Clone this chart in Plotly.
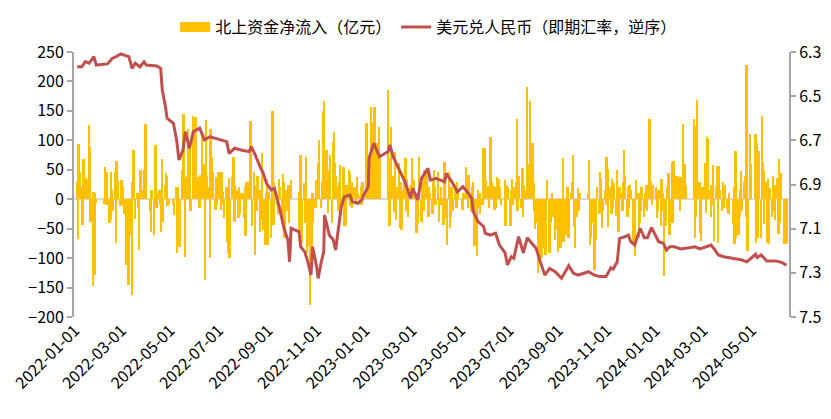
import pandas as pd
from plotly.subplots import make_subplots
import plotly.graph_objects as go

# northbound net flow (100m CNY), one value per trading day, month by month
flow_2022 = [
    30, -68, 93, 47, 20, -44, 69, 30, 38, 35, 24, 126, 89, -38, -148, 12, -128, 10, -6,  # jan
    -8, 55, 20, -10, 47, -41, -36, 47, 15, -20, 47, -75, 65, 30, 33, -12,  # feb
    32, -10, 20, -25, -112, -53, -40, -146, -60, -163, 30, 84, 20, -33, 10, -15, -87, 25, 49, 15, 30, 49, 127,  # mar
    127, -20, -55, 15, -61, 30, 92, -15, 10, 15, -10, -55, 69, -38, 25, 44, 40, -12, -8,  # apr
    -10, -27, 21, -92, 21, -30, -81, 49, 23, 144, 38, -98, 40, 119, 30, 97, -20, 141, 50,  # may
    70, 140, 38, -15, 41, 38, 115, 60, -137, 135, 40, 20, -100, 120, 72, 30, 47, -18, 38, -10, 20,  # jun
    47, -18, 46, 13, -10, -32, 20, -72, -92, 36, -100, 38, 25, 72, -38, 24, 15, -32, 20, -25, 10,  # jul
    10, -32, 21, -63, 30, 15, 29, 133, 80, -46, 47, -95, 24, -20, 40, -55, 15, -35, 78, -52, -78, 10, 35,  # aug
    -78, 12, -66, 38, 149, -44, 30, -10, -25, 35, 20, -30, 42, 29, -66, 15, -20, 25, -40, 10, 33,  # sep
    13, -63, 75, -20, -75, 27, -40, 72, -92, -80, -179, -60, -95, 10, -40, -15,  # oct
    33, 10, 61, 101, -15, 30, 20, 149, 166, 84, 50, -24, 20, 75, -41, 98, 115, 61, 40, 20, -20, 30,  # nov
    58, -20, 55, -46, 10, -45, 25, 49, 44, -12, 30, -15, 20, 16, -8, 38, 10, 5, 22, -10, 30, 15,  # dec
]
flow_2023 = [
    129, 30, 60, 40, 157, 25, 129, 80, 157, 92, 95, 40, 123, 75, 186, 60,  # jan
    -46, 70, 123, 40, -21, 80, -35, 20, 61, -49, 30, -52, 15, 40, 70, -20, 35, -30, 25, 10,  # feb
    70, 20, 33, -49, -58, 10, -40, 72, -38, 25, 30, -20, 49, 47, 15, -30, 20, 10, -25, 35, 49, 20, -10,  # mar
    47, -38, -10, 20, -44, 64, 47, -32, -78, 47, -49, -30, 20, -20, 10, 25, -15, 30, 15,  # apr
    -18, 10, 55, 25, 41, -15, 41, -21, 20, 30, -30, -80, -97, 15, -15, 10, -25, -10, 87, 20,  # may
    87, 33, 23, -15, 45, 106, 30, 23, -18, 20, -15, 38, 35, 20, -10, 33, -46, 15, 25, 20,  # jun
    -46, 15, 35, -10, 20, 30, 137, -20, 40, 20, -15, 53, -30, 25, 15, 191, 60, 20, 40, 166, 95,  # jul
    27, -20, -50, -40, -126, -60, -110, -75, -100, -40, -83, -95, -60, 33, -92, -83, -40, 10, -30, -70, -50, -40, -20,  # aug
    -89, -83, -20, -55, 70, -72, -60, 15, 21, -66, -60, 10, 30, 75, -46, -83, -30, 19, -20, 10,  # sep
    10, 66, -78, -66, -40, -20, -120, -70, -30, 20, -25, 47, 35, -49, -20, 15, -10,  # oct
    72, 52, -48, 20, -25, 35, -15, 27, -29, 49, 15, -55, 20, 10, -20, 30, 84, 40, -30, 20, -15, 25,  # nov
    15, -32, -78, -20, -97, 33, 10, -66, -40, -20, 20, -30, 10, -15, 25, -20, 137, 20, 30, -10, 25,  # dec
]
flow_2024 = [
    20, -32, -20, 15, -46, 35, 10, -20, -131, -46, 20, 38, 44, -60, 64, -40, 65, 20, 40, 40, 35, 20,  # jan
    -20, 37, 127, 30, 60, 25, 137, -65, -30, 125, 168, 30, -57, -71, 20,  # feb
    20, 62, -23, 105, 103, 15, -30, 25, -10, 58, -71, 20, 57, -74, 57, 15, -20, 30, -15, 10, 25,  # mar
    -17, -25, 11, -42, 20, -76, 82, -65, -60, -31, 17, 48, -20, 30, 40, -30, 228, -88, 110, 60,  # apr
    110, -74, 96, -65, 82, -65, 141, 62, 48, -42, 30, -74, 34, -76, 19, -30, 40, -20, 25, -35,  # may
    36, -59, 68, -40, 45, -76, -30, -76, -75,  # jun
]

# market holidays (no northbound trading)
holidays = [
    ("2022-01-03", "2022-01-03"), ("2022-01-31", "2022-02-04"), ("2022-04-04", "2022-04-05"),
    ("2022-05-02", "2022-05-04"), ("2022-06-03", "2022-06-03"), ("2022-09-12", "2022-09-12"),
    ("2022-10-03", "2022-10-07"),
    ("2023-01-02", "2023-01-02"), ("2023-01-23", "2023-01-27"), ("2023-04-05", "2023-04-05"),
    ("2023-05-01", "2023-05-03"), ("2023-06-22", "2023-06-23"), ("2023-09-29", "2023-09-29"),
    ("2023-10-02", "2023-10-06"),
    ("2024-01-01", "2024-01-01"), ("2024-02-09", "2024-02-16"), ("2024-04-04", "2024-04-05"),
    ("2024-05-01", "2024-05-03"), ("2024-06-10", "2024-06-10"),
]

# USD/CNY spot
fx_dates = [
    "2022-01-04", "2022-01-10", "2022-01-14", "2022-01-19", "2022-01-25", "2022-01-28",
    "2022-02-11", "2022-02-17", "2022-02-22", "2022-02-28", "2022-03-04", "2022-03-10",
    "2022-03-14", "2022-03-18", "2022-03-24", "2022-03-29", "2022-04-01", "2022-04-14",
    "2022-04-19", "2022-04-21", "2022-04-25", "2022-04-27", "2022-05-05", "2022-05-09",
    "2022-05-12", "2022-05-17", "2022-05-20", "2022-05-25", "2022-05-30", "2022-06-07",
    "2022-06-13", "2022-06-20", "2022-06-27", "2022-07-04", "2022-07-11", "2022-07-14",
    "2022-07-21", "2022-07-29", "2022-08-08", "2022-08-11", "2022-08-15", "2022-08-22",
    "2022-08-26", "2022-08-30", "2022-09-05", "2022-09-09", "2022-09-13", "2022-09-16",
    "2022-09-21", "2022-09-26", "2022-09-28", "2022-09-30", "2022-10-10", "2022-10-12",
    "2022-10-17", "2022-10-21", "2022-10-25", "2022-10-27", "2022-11-01", "2022-11-03",
    "2022-11-07", "2022-11-10", "2022-11-11", "2022-11-17", "2022-11-22", "2022-11-25",
    "2022-12-02", "2022-12-06", "2022-12-13", "2022-12-16", "2022-12-23", "2022-12-28",
    "2022-12-30", "2023-01-05", "2023-01-06", "2023-01-12", "2023-01-19", "2023-01-30",
    "2023-02-01", "2023-02-06", "2023-02-14", "2023-02-20", "2023-02-27", "2023-03-02",
    "2023-03-08", "2023-03-13", "2023-03-21", "2023-03-24", "2023-03-31", "2023-04-11",
    "2023-04-13", "2023-04-20", "2023-04-27", "2023-05-04", "2023-05-11", "2023-05-15",
    "2023-05-17", "2023-05-23", "2023-05-30", "2023-06-01", "2023-06-07", "2023-06-14",
    "2023-06-19", "2023-06-26", "2023-06-29", "2023-07-04", "2023-07-07", "2023-07-13",
    "2023-07-19", "2023-07-24", "2023-07-28", "2023-08-04", "2023-08-10", "2023-08-15",
    "2023-08-21", "2023-08-28", "2023-09-05", "2023-09-14", "2023-09-20", "2023-09-26",
    "2023-10-09", "2023-10-16", "2023-10-23", "2023-10-31", "2023-11-06", "2023-11-09",
    "2023-11-14", "2023-11-17", "2023-11-24", "2023-11-28", "2023-12-01", "2023-12-06",
    "2023-12-13", "2023-12-18", "2023-12-22", "2023-12-27", "2024-01-02", "2024-01-05",
    "2024-01-11", "2024-01-15", "2024-01-19", "2024-01-25", "2024-02-02", "2024-02-20",
    "2024-02-26", "2024-03-11", "2024-03-15", "2024-03-20", "2024-03-27", "2024-04-08",
    "2024-04-19", "2024-04-25", "2024-05-06", "2024-05-08", "2024-05-13", "2024-05-20",
    "2024-05-31", "2024-06-07", "2024-06-14",
]
fx_values = [
    6.367, 6.367, 6.344, 6.351, 6.321, 6.359,
    6.354, 6.329, 6.321, 6.309, 6.314, 6.321,
    6.374, 6.351, 6.367, 6.344, 6.359, 6.363,
    6.374, 6.472, 6.548, 6.600, 6.623, 6.698,
    6.789, 6.744, 6.661, 6.736, 6.661, 6.645,
    6.698, 6.684, 6.691, 6.698, 6.706, 6.759,
    6.736, 6.744, 6.751, 6.729, 6.759, 6.820,
    6.849, 6.895, 6.925, 6.917, 6.970, 7.015,
    7.098, 7.151, 7.250, 7.098, 7.114, 7.182,
    7.204, 7.250, 7.310, 7.182, 7.272, 7.325,
    7.250, 7.204, 7.038, 7.129, 7.151, 7.197,
    7.000, 6.955, 6.948, 6.978, 6.985, 6.970,
    6.950, 6.910, 6.780, 6.713, 6.774, 6.751,
    6.721, 6.780, 6.842, 6.887, 6.962, 6.917,
    6.970, 6.872, 6.827, 6.880, 6.872, 6.887,
    6.850, 6.887, 6.933, 6.910, 6.940, 6.962,
    7.023, 7.068, 7.090, 7.120, 7.129, 7.120,
    7.174, 7.210, 7.264, 7.227, 7.234, 7.136,
    7.210, 7.141, 7.159, 7.189, 7.257, 7.310,
    7.280, 7.295, 7.325, 7.268, 7.302, 7.310,
    7.295, 7.310, 7.317, 7.317, 7.277, 7.283,
    7.250, 7.144, 7.136, 7.129, 7.159, 7.174,
    7.098, 7.141, 7.141, 7.095, 7.136, 7.159,
    7.166, 7.197, 7.182, 7.182, 7.192, 7.182,
    7.192, 7.174, 7.192, 7.219, 7.227, 7.234,
    7.242, 7.250, 7.216, 7.231, 7.219, 7.246,
    7.246, 7.252, 7.265,
]

BAR_NAME = "北上资金净流入（亿元）"
LINE_NAME = "美元兑人民币（即期汇率，逆序）"
FONT = "Noto Sans CJK SC, Microsoft YaHei, sans-serif"


def trading_days(start, end):
    """Business days between start and end, minus the holiday ranges."""
    days = pd.bdate_range(start, end)
    off = []
    for a, b in holidays:
        off.extend(pd.date_range(a, b))
    return days[~days.isin(off)]


bar_x, bar_y = [], []
for (start, end), vals in [(("2022-01-01", "2022-12-31"), flow_2022),
                           (("2023-01-01", "2023-12-31"), flow_2023),
                           (("2024-01-01", "2024-06-14"), flow_2024)]:
    days = trading_days(start, end)
    for d, v in zip(days, vals):
        bar_x.append(d)
        bar_y.append(v)

fig = make_subplots(specs=[[{"secondary_y": True}]])
fig.add_trace(go.Bar(x=bar_x, y=bar_y, name=BAR_NAME, marker_color="#FFC000",
                     marker_line_width=0, width=2.4 * 86400000, showlegend=False))
# legend swatch drawn as a thick short line so it looks like the wide box
fig.add_trace(go.Scatter(x=[None], y=[None], mode="lines", name=BAR_NAME,
                         line=dict(color="#FFC000", width=13)))
fig.add_trace(go.Scatter(x=pd.to_datetime(fx_dates), y=fx_values, name=LINE_NAME, mode="lines",
                         line=dict(color="#C0504D", width=3)), secondary_y=True)

axis_style = dict(showgrid=False, showline=True, linecolor="#A6A6A6", linewidth=2,
                  ticks="outside", ticklen=5, tickcolor="#A6A6A6", tickwidth=2,
                  tickfont=dict(size=16, color="#000000"), automargin=False)
fig.update_yaxes(range=[-200, 250], dtick=50, zeroline=True, zerolinecolor="#D9D9D9",
                 zerolinewidth=2, secondary_y=False, **axis_style)
fig.update_yaxes(range=[7.5, 6.3], tick0=6.3, dtick=0.2, tickformat=".1f", zeroline=False,
                 secondary_y=True, **axis_style)
fig.update_xaxes(type="date", domain=[0, 1], range=["2021-12-31", "2024-06-17"],
                 tick0="2022-01-01", dtick="M2", tickformat="%Y-%m-%d", tickangle=-45,
                 showgrid=False, showline=False, ticks="",
                 tickfont=dict(size=16, color="#000000"), automargin=False)

# page body adds 8px at top/left, so the figure is 8px smaller each way
fig.update_layout(
    width=823, height=411,
    margin=dict(l=66, r=42, t=44, b=102, autoexpand=False),
    plot_bgcolor="white", paper_bgcolor="white",
    bargap=0,
    font=dict(family=FONT, size=16, color="#000000"),
    legend=dict(orientation="h", x=0.496, xanchor="center", y=1.094, yanchor="middle",
                font=dict(size=16), itemwidth=30, bgcolor="rgba(0,0,0,0)"),
)

fig.write_html("out.html")
